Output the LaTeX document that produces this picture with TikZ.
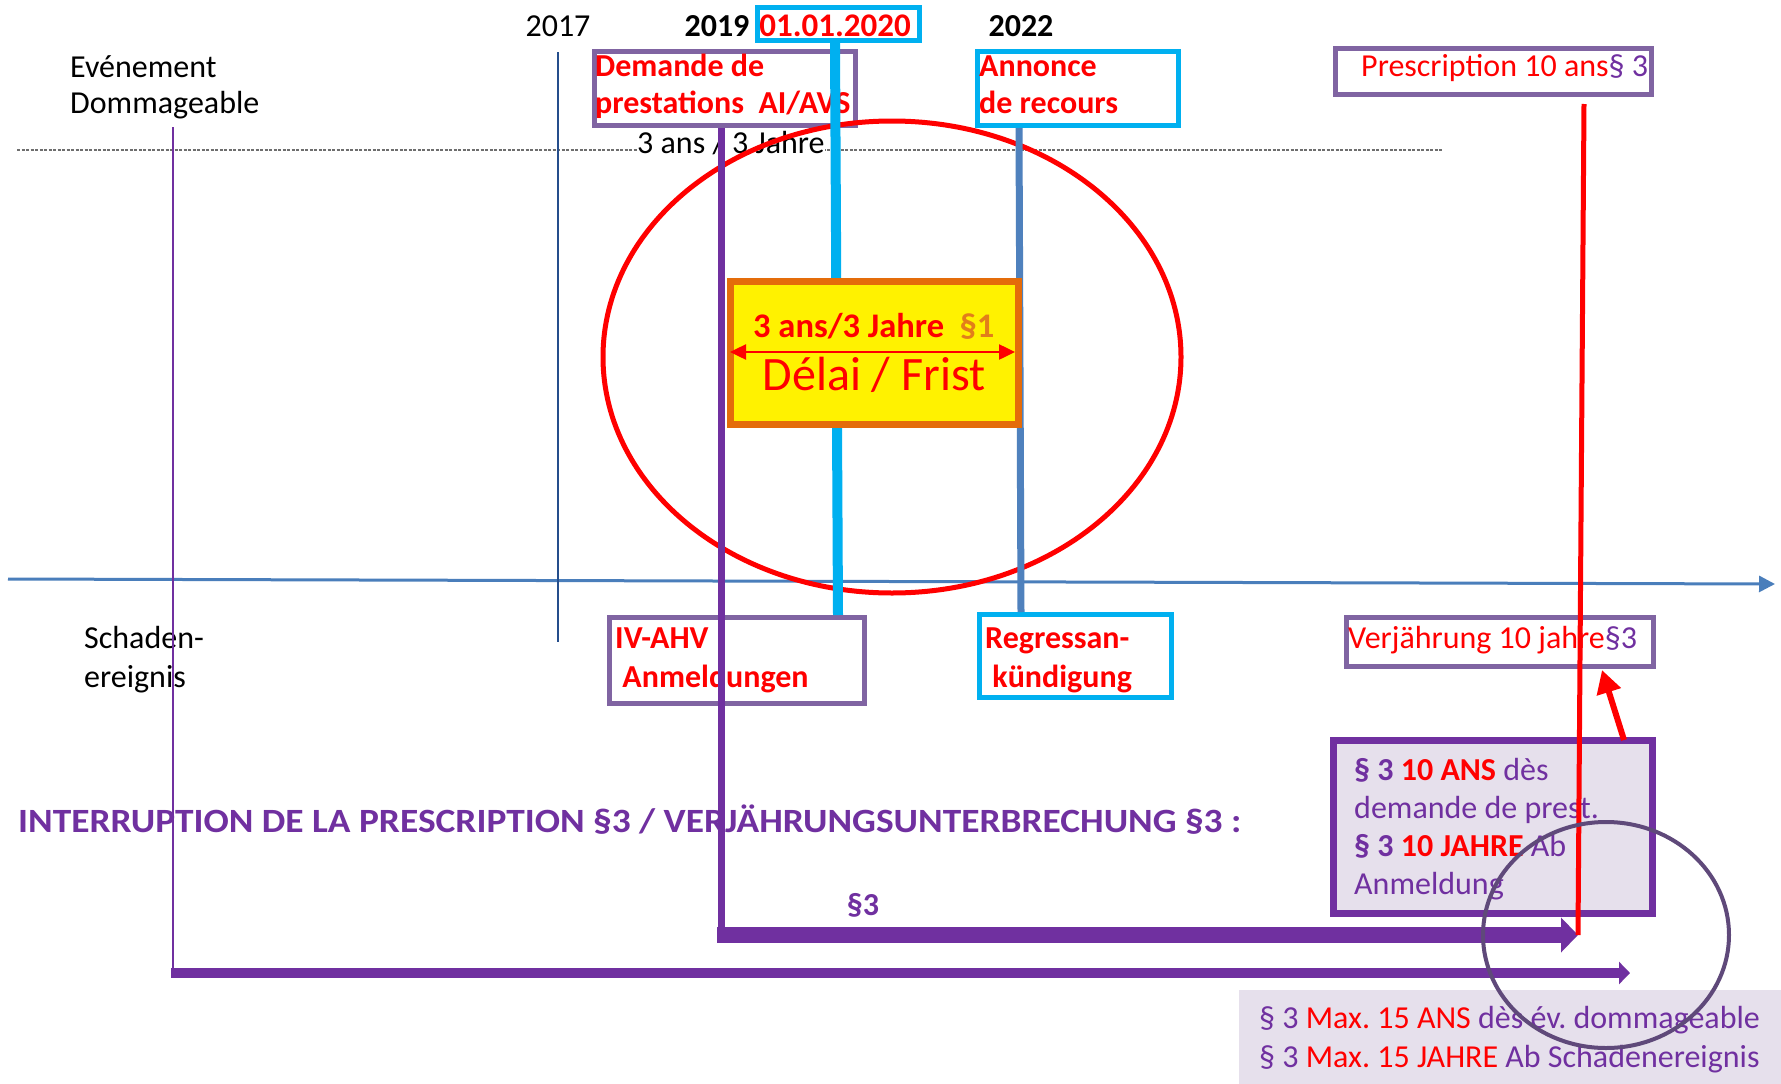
\documentclass[tikz,border=0pt]{standalone}
\usepackage{fontspec}
\setmainfont{Carlito}
\usetikzlibrary{arrows.meta}
\definecolor{vio}{RGB}{112,48,160}
\definecolor{boxvio}{RGB}{128,100,162}
\definecolor{sky}{RGB}{0,176,240}
\definecolor{steel}{RGB}{79,129,189}
\definecolor{axisblue}{RGB}{74,126,187}
\definecolor{navyline}{RGB}{37,78,140}
\definecolor{orng}{RGB}{228,108,10}
\definecolor{goldish}{RGB}{226,126,26}
\definecolor{lav}{RGB}{230,224,236}
\definecolor{circv}{RGB}{95,73,122}
\definecolor{dashgrey}{RGB}{110,110,110}
\newcommand\fsz[2]{\fontsize{#1}{#2}\selectfont}
\frenchspacing
\begin{document}
\begin{tikzpicture}[x=1pt,y=-1pt,
  txt/.style={inner sep=0pt, anchor=base west, font=\fsz{32}{37}},
  mtxt/.style={txt, align=flush left, text width=#1},
  boxframe/.style={draw=#1, line width=5pt, inner sep=0pt, rectangle},
  redb/.style={text=red, font=\fsz{32}{37}\bfseries},
]
\useasboundingbox (0,0) rectangle (1781,1084);
\fill[white] (0,0) rectangle (1781,1084);

% dashed reference line and time axis
\coordinate (dashL) at (17,150);
\coordinate (dashR) at (1442,150);
\draw[dashgrey, line width=1.5pt, dash pattern=on 3pt off 1.5pt] (dashL) -- (dashR);
\coordinate (axL) at (8,579);
\coordinate (axR) at (1775,584);
\draw[axisblue, line width=3pt, -{Triangle[length=16pt,width=16pt]}] (axL) -- (axR);

% free texts
\node[mtxt=260pt, font=\fsz{32}{36}] (ev) at (70,77) {Evénement\\Dommageable};
\node[mtxt=200pt, font=\fsz{32}{39}] (sch) at (84,648) {Schaden-\\ereignis};
\node[txt, anchor=base] (y17) at (558,36) {2017};
\node[txt, anchor=base, font=\fsz{32}{37}\bfseries] (y19) at (717,36) {2019};
\node[txt, anchor=base, font=\fsz{32}{37}\bfseries] (y22) at (1021,36) {2022};
\node[txt, fill=white] (trois) at (637,153) {3 ans / 3 Jahre};
\node[txt, font=\fsz{34}{40}\bfseries, text=vio] (interr) at (18,832) {\scalebox{1.1}[1]{INTERRUPTION DE LA PRESCRIPTION §3 / VERJÄHRUNGSUNTERBRECHUNG §3 :}};
\node[txt, anchor=base, font=\fsz{32}{37}\bfseries, text=vio] (p3) at (863,915) {§3};

% boxes
\node[boxframe=sky, minimum width=162pt, minimum height=33pt] (d20) at (838.5,24) {};
\node[txt, anchor=base, redb, font=\fsz{33}{39}\bfseries] (t20) at (835,36) {01.01.2020};
\node[boxframe=boxvio, minimum width=261pt, minimum height=74pt] (demande) at (725,88.5) {};
\node[mtxt=260pt, redb] (tdem) at (595,76) {Demande de\\prestations~ AI/AVS};
\node[boxframe=sky, minimum width=201pt, minimum height=74pt] (annonce) at (1078,88.5) {};
\node[mtxt=200pt, redb] (tann) at (979,76) {Annonce\\de recours};
\node[boxframe=boxvio, minimum width=316pt, minimum height=46pt] (prescr) at (1493.5,71.5) {};
\node[txt, font=\fsz{32}{38}] (tpre) at (1361,76) {\textcolor{red}{Prescription 10 ans}\textcolor{vio}{§ 3}};
\node[boxframe=boxvio, minimum width=255pt, minimum height=86pt] (ivahv) at (737,660.5) {};
\node[mtxt=250pt, redb, font=\fsz{32}{39}\bfseries] (tiv) at (615,648) {IV-AHV\\~Anmeldungen};
\node[boxframe=sky, minimum width=192pt, minimum height=83pt] (regress) at (1075.5,656) {};
\node[mtxt=190pt, redb, font=\fsz{32}{39}\bfseries] (treg) at (985,648) {Regressan-\\~kündigung};
\node[boxframe=boxvio, minimum width=307pt, minimum height=49pt] (verj) at (1500,642) {};
\node[txt, font=\fsz{32}{38}] (tverj) at (1348,648) {\textcolor{red}{Verjährung 10 jahre}\textcolor{vio}{§3}};

% red oval
\draw[red, line width=5pt] (892,357) ellipse [x radius=289, y radius=236];

% vertical lines
\coordinate (thinTop) at (173,127);
\coordinate (thinBot) at (173,973);
\draw[vio, line width=2.5pt] (thinTop) -- (thinBot);
\coordinate (navyTop) at (558,52);
\coordinate (navyBot) at (558,642);
\draw[navyline, line width=2pt] (navyTop) -- (navyBot);
\coordinate (steelTop) at (1019,128);
\coordinate (steelBot) at (1021,612);
\draw[steel, line width=7pt] (steelTop) -- (steelBot);
\coordinate (skyTop) at (835,43);
\coordinate (skyBot) at (838,615);
\draw[sky, line width=10pt] (skyTop) -- (skyBot);
\coordinate (pvTop) at (721,128);
\coordinate (pvBot) at (721,943);
\draw[vio, line width=7pt] (pvTop) -- (pvBot);

% yellow box
\node[draw=orng, line width=7pt, fill=yellow, inner sep=0pt, minimum width=288pt, minimum height=143pt] (delai) at (874.5,353) {};
\node[txt, font=\fsz{34.5}{40}\bfseries] (tans) at (753,337) {\textcolor{red}{3 ans/3 Jahre~~}\textcolor{goldish}{§1}};
\node[txt, anchor=base, font=\fsz{48}{54}, text=red] (tdel) at (874,390) {Délai / Frist};
\coordinate (dblL) at (730,352);
\coordinate (dblR) at (1015,352);
\draw[red, line width=2.5pt, {Triangle[length=16pt,width=15pt]}-{Triangle[length=16pt,width=15pt]}] (dblL) -- (dblR);

% horizontal interruption arrows
\coordinate (a3L) at (717,935);
\coordinate (a3R) at (1578,935);
\draw[vio, line width=16pt, -{Triangle[length=17pt,width=34pt]}] (a3L) -- (a3R);
\coordinate (a15L) at (171,973);
\coordinate (a15R) at (1630,973);
\draw[vio, line width=10pt, -{Triangle[length=11pt,width=22pt]}] (a15L) -- (a15R);

% lavender box
\node[draw=vio, line width=7pt, fill=lav, inner sep=0pt, minimum width=319pt, minimum height=173pt] (lavbox) at (1493,827) {};
\node[mtxt=300pt, font=\fsz{32}{38}, text=vio] (tlav) at (1354,780) {\textbf{§ 3 \textcolor{red}{10 ANS}} dès\\demande de prest.\\\textbf{§ 3 \textcolor{red}{10 JAHRE}} Ab\\Anmeldung};

% red line and red arrow
\coordinate (redTop) at (1584,104);
\draw[red, line width=5pt] (redTop) -- (a3R);
\coordinate (raS) at (1624,740);
\coordinate (raE) at (1602,670);
\draw[red, line width=6pt, -{Triangle[length=23pt,width=24pt]}] (raS) -- (raE);

% bottom box
\node[fill=lav, inner sep=0pt, minimum width=542pt, minimum height=94pt] (botbox) at (1510,1037) {};
\node[mtxt=530pt, font=\fsz{32}{39}, text=vio] (tbot) at (1259,1028) {§ 3 \textcolor{red}{Max. 15 ANS} dès év. dommageable\\§ 3 \textcolor{red}{Max. 15 JAHRE} Ab Schadenereignis};

% grey circle
\draw[circv, line width=4pt] (1606,935) ellipse [x radius=123, y radius=113];
\end{tikzpicture}
\end{document}
